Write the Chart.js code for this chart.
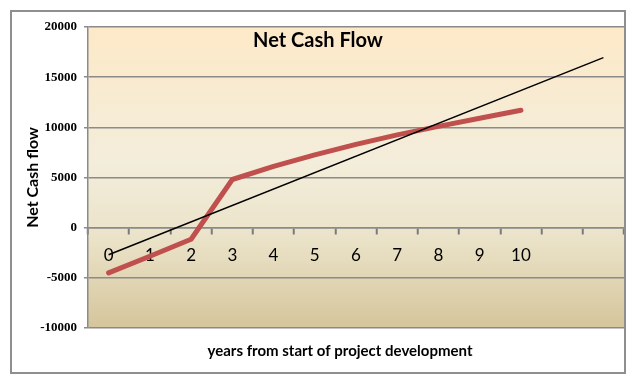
<!DOCTYPE html>
<html>
<head>
<meta charset="utf-8">
<title>Net Cash Flow</title>
<script src="https://cdn.jsdelivr.net/npm/chart.js@4.4.1/dist/chart.umd.min.js"></script>
<style>
  html, body { margin: 0; padding: 0; background: #fff; }
  #box {
    position: absolute; left: 10px; top: 10px;
    width: 612px; height: 360px;
    border: 2px solid #8f8f8f;
    background: #fff;
  }
  canvas { display: block; }
</style>
</head>
<body>
<div id="box"><canvas id="cashflow" width="612" height="360"></canvas></div>
<script>
// years on the axis (11 and 12 only carry the trendline, no label shown)
const years = ['0', '1', '2', '3', '4', '5', '6', '7', '8', '9', '10', '11', '12'];
const lastLabelled = 10;
const netCash = [-4500, -2850, -1150, 4800, 6100, 7250, 8300, 9250, 10100, 10900, 11700];
// linear trendline at its two ends
const trendYears = ['0', '12'];
const trendValues = [-2700, 16950];
const yTicks = { min: -10000, max: 20000, step: 5000 };

const chartTitle = 'Net Cash Flow';
const xTitle = 'years from start of project development';
const yTitle = 'Net Cash flow';

const gridGray = '#8a8a8a';

const background = {
  id: 'background',
  beforeDraw(chart) {
    const { ctx, chartArea: a } = chart;
    const g = ctx.createLinearGradient(0, a.top, 0, a.bottom);
    g.addColorStop(0, '#fde9c8');
    g.addColorStop(0.45, '#f3eddb');
    g.addColorStop(0.7, '#ebe3c9');
    g.addColorStop(1, '#d5c59b');
    ctx.save();
    ctx.fillStyle = g;
    ctx.fillRect(a.left, a.top, a.right - a.left, a.bottom - a.top);
    ctx.restore();
  }
};

// chart title sits inside the plot, x title under it (Excel style)
const texts = {
  id: 'texts',
  afterDraw(chart) {
    const ctx = chart.ctx;
    ctx.save();
    ctx.fillStyle = '#000';
    ctx.textAlign = 'center';
    ctx.textBaseline = 'middle';
    ctx.font = 'bold 20px Lato';
    ctx.fillText(chartTitle, 306, 29);
    ctx.font = 'bold 15px Lato';
    ctx.fillText(xTitle, 328, 339);
    ctx.restore();
  }
};

const data = {
  labels: years,
  datasets: [{
      label: 'Net cash flow',
      data: netCash,
      borderColor: '#c0504d',
      borderWidth: 5,
      borderCapStyle: 'round',
      borderJoinStyle: 'round',
      pointRadius: 0,
      tension: 0,
      order: 2
    }, {
      label: 'Trend',
      data: trendYears.map((x, i) => ({ x: x, y: trendValues[i] })),
      borderColor: '#000',
      borderWidth: 1.5,
      pointRadius: 0,
      order: 1
    }]
};

const options = {
  responsive: false,
  animation: false,
  devicePixelRatio: 1,
  layout: { padding: { top: 15, bottom: 44, left: 0, right: 0 } },
  plugins: {
    legend: { display: false },
    tooltip: { enabled: false }
  },
  scales: {
    x: {
      type: 'category',
      position: { y: 0 },
      offset: true,
      grid: {
        offset: true,
        drawOnChartArea: false,
        drawTicks: true,
        tickLength: 6,
        tickColor: '#7a7a7a',
        tickWidth: 2,
        color: gridGray,
        lineWidth: 1.5
      },
      border: { color: gridGray, width: 1.5 },
      ticks: {
        autoSkip: false,
        maxRotation: 0,
        padding: 12,
        color: '#000',
        font: { family: 'Lato', size: 17 },
        callback: function (v, i) { return i <= lastLabelled ? this.getLabelForValue(v) : ''; }
      },
      afterFit: (s) => { s.paddingLeft = 0; s.paddingRight = 0; }
    },
    y: {
      min: yTicks.min,
      max: yTicks.max,
      grid: {
        color: gridGray,
        lineWidth: 1.5,
        tickLength: 4
      },
      border: { color: gridGray, width: 1.5 },
      ticks: {
        stepSize: yTicks.step,
        padding: 7,
        color: '#000',
        font: { family: 'Liberation Serif', size: 13, weight: 'bold' },
        callback: (v) => String(v)
      },
      title: {
        display: true,
        text: yTitle,
        color: '#000',
        padding: { top: 11, bottom: 0 },
        font: { family: 'Lato', size: 16, weight: 'bold' }
      },
      afterFit: (s) => { s.width = 76; s.paddingTop = 0; s.paddingBottom = 0; }
    }
  }
};

const ctx = document.getElementById('cashflow').getContext('2d');
const cashChart = new Chart(ctx, {
  type: 'line',
  data: data,
  options: options,
  plugins: [background, texts]
});
</script>
</body>
</html>
